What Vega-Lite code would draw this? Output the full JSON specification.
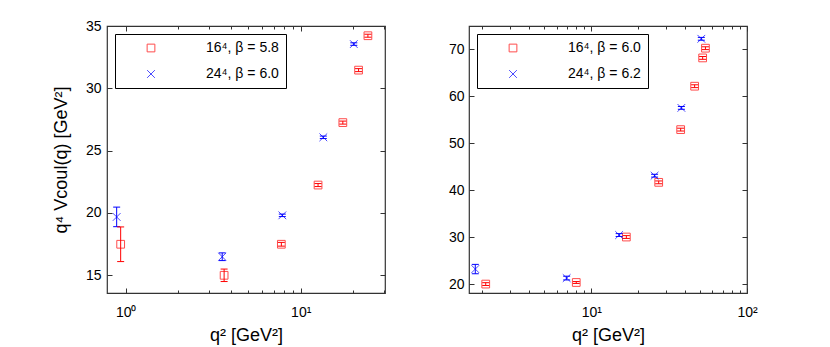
{
  "$schema": "https://vega.github.io/schema/vega-lite/v6.json",
  "background": "white",
  "padding": {"left": 51, "top": 18, "right": 5, "bottom": 0},
  "data": {"values": [
    {"p": "L", "s": "16⁴, β = 5.8", "x": 0.936, "y": 17.49, "lo": 16.1, "hi": 18.88},
    {"p": "L", "s": "16⁴, β = 5.8", "x": 3.65, "y": 15.0, "lo": 14.5, "hi": 15.5},
    {"p": "L", "s": "16⁴, β = 5.8", "x": 7.75, "y": 17.49, "lo": 17.34, "hi": 17.64},
    {"p": "L", "s": "16⁴, β = 5.8", "x": 12.56, "y": 22.24, "lo": 22.12, "hi": 22.36},
    {"p": "L", "s": "16⁴, β = 5.8", "x": 17.4, "y": 27.25, "lo": 27.13, "hi": 27.37},
    {"p": "L", "s": "16⁴, β = 5.8", "x": 21.4, "y": 31.46, "lo": 31.34, "hi": 31.58},
    {"p": "L", "s": "16⁴, β = 5.8", "x": 24.2, "y": 34.22, "lo": 34.1, "hi": 34.34},
    {"p": "L", "s": "24⁴, β = 6.0", "x": 0.888, "y": 19.68, "lo": 18.9, "hi": 20.47},
    {"p": "L", "s": "24⁴, β = 6.0", "x": 3.56, "y": 16.49, "lo": 16.18, "hi": 16.8},
    {"p": "L", "s": "24⁴, β = 6.0", "x": 7.85, "y": 19.81, "lo": 19.71, "hi": 19.91},
    {"p": "L", "s": "24⁴, β = 6.0", "x": 13.46, "y": 26.07, "lo": 25.97, "hi": 26.17},
    {"p": "L", "s": "24⁴, β = 6.0", "x": 20.1, "y": 33.55, "lo": 33.45, "hi": 33.65},
    {"p": "R", "s": "16⁴, β = 6.0", "x": 2.1, "y": 20.0, "lo": 19.7, "hi": 20.3},
    {"p": "R", "s": "16⁴, β = 6.0", "x": 8.01, "y": 20.34, "lo": 20.14, "hi": 20.54},
    {"p": "R", "s": "16⁴, β = 6.0", "x": 16.8, "y": 30.03, "lo": 29.73, "hi": 30.33},
    {"p": "R", "s": "16⁴, β = 6.0", "x": 27.1, "y": 41.68, "lo": 41.38, "hi": 41.98},
    {"p": "R", "s": "16⁴, β = 6.0", "x": 37.5, "y": 52.92, "lo": 52.62, "hi": 53.22},
    {"p": "R", "s": "16⁴, β = 6.0", "x": 46.1, "y": 62.17, "lo": 61.87, "hi": 62.47},
    {"p": "R", "s": "16⁴, β = 6.0", "x": 51.9, "y": 68.2, "lo": 67.9, "hi": 68.5},
    {"p": "R", "s": "16⁴, β = 6.0", "x": 54.1, "y": 70.27, "lo": 69.97, "hi": 70.57},
    {"p": "R", "s": "24⁴, β = 6.2", "x": 1.8, "y": 23.2, "lo": 22.2, "hi": 24.2},
    {"p": "R", "s": "24⁴, β = 6.2", "x": 6.95, "y": 21.28, "lo": 20.88, "hi": 21.68},
    {"p": "R", "s": "24⁴, β = 6.2", "x": 15.1, "y": 30.45, "lo": 30.15, "hi": 30.75},
    {"p": "R", "s": "24⁴, β = 6.2", "x": 25.5, "y": 43.1, "lo": 42.8, "hi": 43.4},
    {"p": "R", "s": "24⁴, β = 6.2", "x": 37.9, "y": 57.55, "lo": 57.25, "hi": 57.85},
    {"p": "R", "s": "24⁴, β = 6.2", "x": 50.9, "y": 72.27, "lo": 71.97, "hi": 72.57}
  ]},
  "spacing": 60,
  "resolve": {"scale": {"color": "independent", "shape": "independent", "x": "independent", "y": "independent"}},
  "hconcat": [
    {
      "width": 278, "height": 267,
      "transform": [{"filter": "datum.p == 'L'"}],
      "layer": [
        {
          "mark": {"type": "point", "filled": false, "strokeWidth": 1, "size": 60},
          "encoding": {
            "x": {"field": "x", "type": "quantitative",
              "scale": {"type": "log", "domain": [0.782, 30.3], "nice": false},
              "axis": {"orient": "bottom", "title": "q² [GeV²]", "values": [1,2,3,4,5,6,7,8,9,10,20,30],
                "labelExpr": "datum.value == 1 ? '10⁰' : datum.value == 10 ? '10¹' : ''",
                "tickSize": {"condition": {"test": "datum.value == 1 || datum.value == 10", "value": -5}, "value": -3},
                "labelPadding": 17, "titlePadding": 5}},
            "y": {"field": "y", "type": "quantitative",
              "scale": {"domain": [13.58, 35], "nice": false, "zero": false},
              "axis": {"orient": "left", "title": "q⁴ Vcoul(q) [GeV²]", "values": [15,20,25,30,35], "tickSize": -5, "labelPadding": 11, "titlePadding": 15}},
            "color": {"field": "s", "type": "nominal", "scale": {"domain": ["16⁴, β = 5.8", "24⁴, β = 6.0"], "range": ["#ff0000", "#0000ff"]},
              "legend": {"title": null, "labelOffset": 48, "symbolOffset": 22, "padding": 7, "rowPadding": 12, "labelFontSize": 14}},
            "shape": {"field": "s", "type": "nominal", "scale": {"domain": ["16⁴, β = 5.8", "24⁴, β = 6.0"], "range": ["square", "M-1,-1L1,1M-1,1L1,-1"]},
              "legend": {"title": null, "labelOffset": 48, "symbolOffset": 22, "padding": 7, "rowPadding": 12, "labelFontSize": 14}}
          }
        },
        {
          "mark": {"type": "rule", "strokeWidth": 1},
          "encoding": {
            "x": {"field": "x", "type": "quantitative", "axis": null},
            "y": {"field": "lo", "type": "quantitative", "axis": null},
            "y2": {"field": "hi"},
            "color": {"field": "s", "type": "nominal"}
          }
        },
        {
          "mark": {"type": "rule", "strokeWidth": 1, "xOffset": -3.5, "x2Offset": 3.5},
          "encoding": {
            "x": {"field": "x", "type": "quantitative", "axis": null},
            "x2": {"field": "x"},
            "y": {"field": "lo", "type": "quantitative", "axis": null},
            "color": {"field": "s", "type": "nominal"}
          }
        },
        {
          "mark": {"type": "rule", "strokeWidth": 1, "xOffset": -3.5, "x2Offset": 3.5},
          "encoding": {
            "x": {"field": "x", "type": "quantitative",
              "axis": {"orient": "top", "title": null, "labels": false, "values": [1,2,3,4,5,6,7,8,9,10,20,30],
                "tickSize": {"condition": {"test": "datum.value == 1 || datum.value == 10", "value": -5}, "value": -3}}},
            "x2": {"field": "x"},
            "y": {"field": "hi", "type": "quantitative",
              "axis": {"orient": "right", "title": null, "labels": false, "values": [15,20,25,30,35], "tickSize": -5}},
            "color": {"field": "s", "type": "nominal"}
          }
        }
      ]
    },
    {
      "width": 278, "height": 267,
      "transform": [{"filter": "datum.p == 'R'"}],
      "layer": [
        {
          "mark": {"type": "point", "filled": false, "strokeWidth": 1, "size": 60},
          "encoding": {
            "x": {"field": "x", "type": "quantitative",
              "scale": {"type": "log", "domain": [1.64, 100], "nice": false},
              "axis": {"orient": "bottom", "title": "q² [GeV²]", "values": [2,3,4,5,6,7,8,9,10,20,30,40,50,60,70,80,90,100],
                "labelExpr": "datum.value == 10 ? '10¹' : datum.value == 100 ? '10²' : ''",
                "tickSize": {"condition": {"test": "datum.value == 10 || datum.value == 100", "value": -5}, "value": -3},
                "labelPadding": 17, "titlePadding": 5}},
            "y": {"field": "y", "type": "quantitative",
              "scale": {"domain": [18.1, 75], "nice": false, "zero": false},
              "axis": {"orient": "left", "title": null, "values": [20,30,40,50,60,70], "tickSize": -5, "labelPadding": 10}},
            "color": {"field": "s", "type": "nominal", "scale": {"domain": ["16⁴, β = 6.0", "24⁴, β = 6.2"], "range": ["#ff0000", "#0000ff"]},
              "legend": {"title": null, "labelOffset": 48, "symbolOffset": 22, "padding": 7, "rowPadding": 12, "labelFontSize": 14}},
            "shape": {"field": "s", "type": "nominal", "scale": {"domain": ["16⁴, β = 6.0", "24⁴, β = 6.2"], "range": ["square", "M-1,-1L1,1M-1,1L1,-1"]},
              "legend": {"title": null, "labelOffset": 48, "symbolOffset": 22, "padding": 7, "rowPadding": 12, "labelFontSize": 14}}
          }
        },
        {
          "mark": {"type": "rule", "strokeWidth": 1},
          "encoding": {
            "x": {"field": "x", "type": "quantitative", "axis": null},
            "y": {"field": "lo", "type": "quantitative", "axis": null},
            "y2": {"field": "hi"},
            "color": {"field": "s", "type": "nominal"}
          }
        },
        {
          "mark": {"type": "rule", "strokeWidth": 1, "xOffset": -3.5, "x2Offset": 3.5},
          "encoding": {
            "x": {"field": "x", "type": "quantitative", "axis": null},
            "x2": {"field": "x"},
            "y": {"field": "lo", "type": "quantitative", "axis": null},
            "color": {"field": "s", "type": "nominal"}
          }
        },
        {
          "mark": {"type": "rule", "strokeWidth": 1, "xOffset": -3.5, "x2Offset": 3.5},
          "encoding": {
            "x": {"field": "x", "type": "quantitative",
              "axis": {"orient": "top", "title": null, "labels": false, "values": [2,3,4,5,6,7,8,9,10,20,30,40,50,60,70,80,90,100],
                "tickSize": {"condition": {"test": "datum.value == 10 || datum.value == 100", "value": -5}, "value": -3}}},
            "x2": {"field": "x"},
            "y": {"field": "hi", "type": "quantitative",
              "axis": {"orient": "right", "title": null, "labels": false, "values": [20,30,40,50,60,70], "tickSize": -5}},
            "color": {"field": "s", "type": "nominal"}
          }
        }
      ]
    }
  ],
  "config": {
    "font": "Liberation Sans",
    "view": {"stroke": "#333333", "strokeWidth": 1.2},
    "axis": {"domain": false, "grid": false, "tickColor": "#333333", "tickWidth": 1, "labelFont": "Liberation Sans", "labelFontSize": 14, "labelColor": "black", "titleFont": "Liberation Sans", "titleFontSize": 18, "titleFontWeight": "normal", "titleColor": "black", "labelFlush": false, "labelOverlap": false},
    "legend": {"orient": "top-left", "offset": 8, "strokeColor": "black", "fillColor": "white", "padding": 7, "labelFont": "Liberation Sans", "labelFontSize": 14, "labelColor": "black", "symbolOffset": 22, "labelOffset": 48, "rowPadding": 12, "symbolStrokeWidth": 1, "symbolSize": 60}
  }
}
